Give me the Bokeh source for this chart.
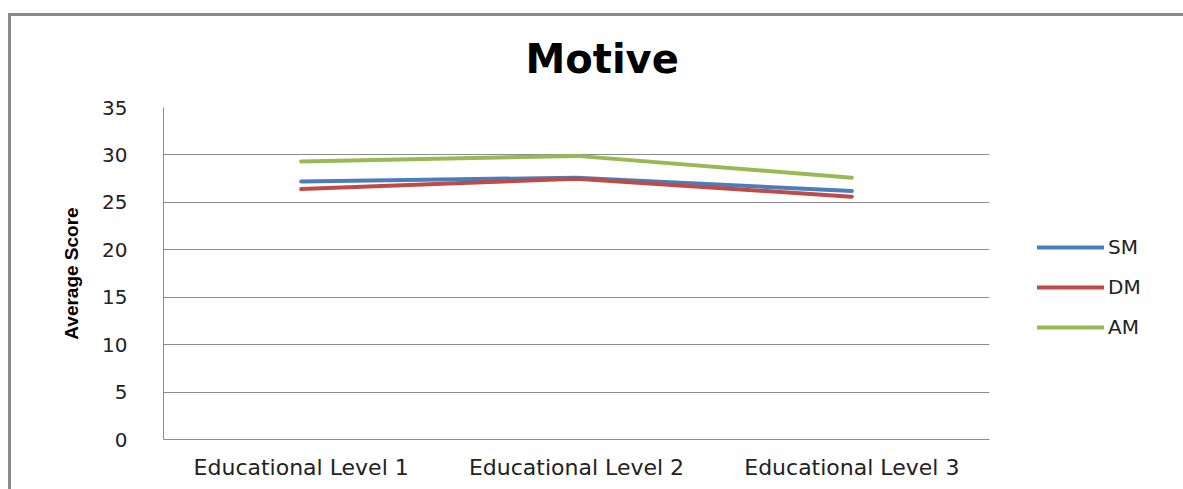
from bokeh.plotting import figure
from bokeh.models import Legend, LegendItem, FactorRange, SingleIntervalTicker, CategoricalAxis
from bokeh.embed import file_html
from bokeh.resources import INLINE

levels = ["Educational Level 1", "Educational Level 2", "Educational Level 3"]
sm = [27.2, 27.6, 26.2]
dm = [26.4, 27.5, 25.6]
am = [29.3, 29.9, 27.6]
series_names = ["SM", "DM", "AM"]
colors = ["#4a7ebb", "#be4b48", "#98b954"]

p = figure(
    x_range=FactorRange(*levels),
    y_range=(0, 35),
    width=1172,
    height=473,
    frame_width=826,
    frame_height=332,
    min_border_left=152,
    min_border_right=194,
    min_border_top=91,
    min_border_bottom=50,
    output_backend="svg",
    toolbar_location=None,
    title="Motive",
    styles={"margin-left": "8px", "margin-top": "13px",
            "border-left": "3px solid #8a8a8a", "border-top": "3px solid #8a8a8a"},
)
p.outline_line_color = None
p.background_fill_color = "white"
p.border_fill_color = "white"

p.title.align = "left"
p.title.offset = 362
p.title.vertical_align = "top"
p.title.text_font = "DejaVu Sans"
p.title.text_font_style = "bold"
p.title.text_font_size = "40px"
p.title.text_color = "black"
p.title.standoff = 0

# blank strip between the title and the plotting area
gap = CategoricalAxis(
    major_label_text_font_size="1px",
    major_label_text_alpha=0,
    major_label_standoff=0,
    major_tick_in=0,
    major_tick_out=24,
    major_tick_line_color=None,
    axis_line_color=None,
)
p.add_layout(gap, "above")

renderers = []
for vals, c in zip([sm, dm, am], colors):
    r = p.line(levels, vals, line_color=c, line_width=4, line_cap="round")
    renderers.append(r)

# axes
p.yaxis.ticker = SingleIntervalTicker(interval=5)
p.yaxis.axis_line_color = "#8c8c8c"
p.yaxis.major_tick_line_color = None
p.yaxis.minor_tick_line_color = None
p.yaxis.major_label_text_font = "DejaVu Sans"
p.yaxis.major_label_text_font_size = "20px"
p.yaxis.major_label_text_color = "#222222"
p.yaxis.major_label_standoff = 30
p.yaxis.axis_label = "Average Score"
p.yaxis.axis_label_text_font = "Liberation Sans"
p.yaxis.axis_label_text_font_style = "bold"
p.yaxis.axis_label_text_font_size = "19px"
p.yaxis.axis_label_text_color = "black"
p.yaxis.axis_label_standoff = 17

xa = p.below[0]
xa.axis_line_color = "#8c8c8c"
xa.major_tick_line_color = None
xa.minor_tick_line_color = None
xa.major_label_text_font = "DejaVu Sans"
xa.major_label_text_font_size = "22px"
xa.major_label_text_color = "#222222"
xa.major_label_standoff = 9

p.xgrid.grid_line_color = None
p.ygrid.grid_line_color = "#8c8c8c"
p.ygrid.grid_line_width = 1

legend = Legend(
    items=[LegendItem(label=n, renderers=[r]) for n, r in zip(series_names, renderers)],
    location=(48, 100),
    glyph_width=67,
    glyph_height=20,
    label_height=20,
    spacing=16,
    padding=0,
    margin=0,
    label_standoff=4,
    label_text_font="DejaVu Sans",
    label_text_font_size="20px",
    label_text_color="#222222",
    border_line_color=None,
    background_fill_alpha=0,
)
p.add_layout(legend, "right")

open("out.html", "w").write(file_html(p, INLINE))
